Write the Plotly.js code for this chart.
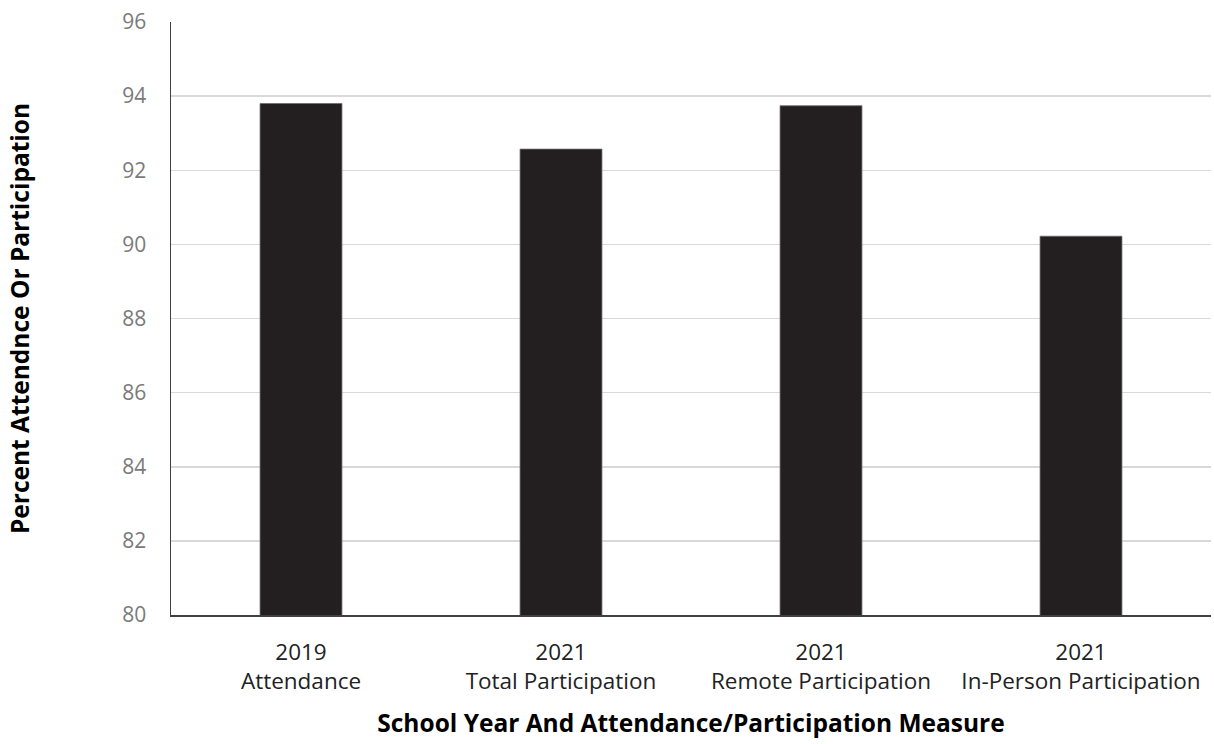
<!DOCTYPE html>
<html>
<head>
<meta charset="utf-8">
<script src="https://cdn.plot.ly/plotly-3.0.1.min.js"></script>
<style>html,body{margin:0;padding:0;background:#fff;}#chart{width:1214px;height:744px;}</style>
</head>
<body>
<div id="chart"></div>
<script>
const categories = ["2019<br>Attendance", "2021<br>Total Participation", "2021<br>Remote Participation", "2021<br>In-Person Participation"];
const values = [93.8, 92.57, 93.74, 90.22];
const yTicks = [80, 82, 84, 86, 88, 90, 92, 94, 96];

const trace = {
  type: "bar",
  x: categories,
  y: values,
  marker: {color: "#231f20", line: {color: "#6b6b6b", width: 0.8}},
  hoverinfo: "skip"
};

const layout = {
  width: 1214,
  height: 744,
  margin: {l: 171, r: 3, t: 22, b: 129},
  paper_bgcolor: "#ffffff",
  plot_bgcolor: "#ffffff",
  font: {family: "Open Sans, sans-serif", color: "#222222"},
  bargap: 0.685,
  showlegend: false,
  xaxis: {
    type: "category",
    range: [-0.5, 3.5],
    showline: true,
    linecolor: "#404040",
    linewidth: 1.5,
    showgrid: false,
    ticks: "",
    ticklabelstandoff: 16,
    tickfont: {size: 22.5, color: "#222222"},
    title: {text: "<b>School Year And Attendance/Participation Measure</b>", font: {size: 24.5, color: "#000000"}, standoff: 20}
  },
  yaxis: {
    range: [80, 96],
    tickvals: yTicks,
    showline: true,
    linecolor: "#404040",
    linewidth: 1.5,
    showgrid: true,
    gridcolor: "#d9d9d9",
    gridwidth: 1.5,
    zeroline: false,
    ticks: "",
    ticklabelstandoff: 19,
    tickfont: {size: 21, color: "#7a7a7a"},
    title: {text: "<b>Percent Attendnce Or Participation</b>", font: {size: 24.5, color: "#000000"}, standoff: 85}
  }
};

Plotly.newPlot("chart", [trace], layout, {displayModeBar: false, staticPlot: true});
</script>
</body>
</html>
